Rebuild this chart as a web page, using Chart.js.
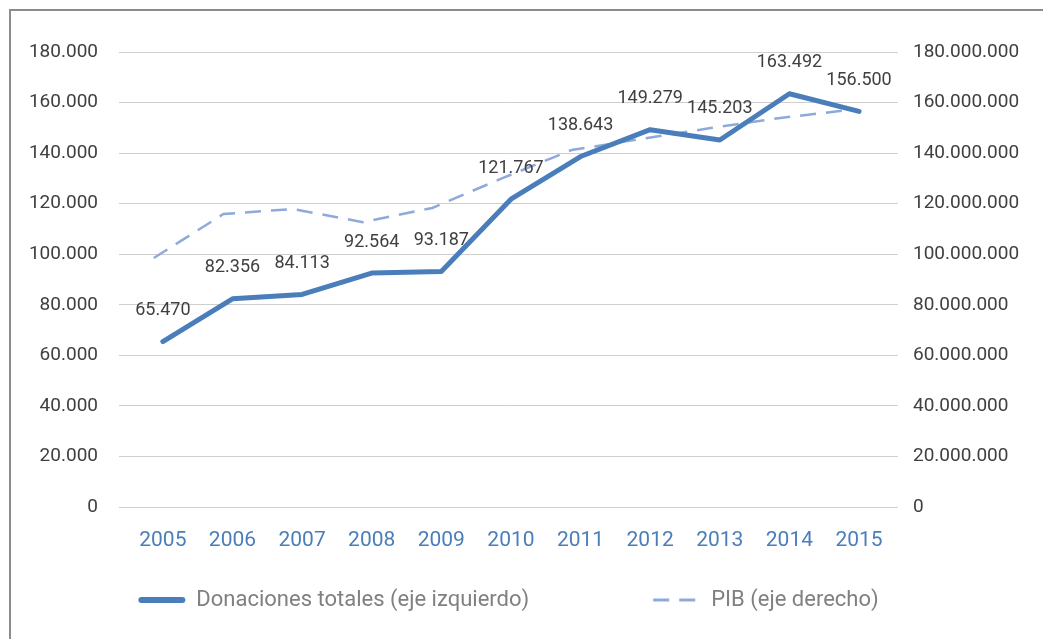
<!DOCTYPE html>
<html>
<head>
<meta charset="utf-8">
<script src="https://cdn.jsdelivr.net/npm/chart.js@4"></script>
<style>
  html, body { margin: 0; padding: 0; background: #fff; overflow: hidden; }
  .frame { position: absolute; left: 9px; top: 9px; width: 1100px; height: 700px; border-left: 2px solid #8c8c8c; border-top: 2px solid #8c8c8c; }
  #chart { position: absolute; left: 0; top: 0; }
</style>
</head>
<body>
<div class="frame"></div>
<canvas id="chart" width="1043" height="639"></canvas>
<script>
// data
const years = ['2005', '2006', '2007', '2008', '2009', '2010', '2011', '2012', '2013', '2014', '2015'];
const donaciones = [65470, 82356, 84113, 92564, 93187, 121767, 138643, 149279, 145203, 163492, 156500];
const pib = [98500000, 115900000, 117900000, 112700000, 118300000, 130000000, 141200000, 145600000, 149900000, 153900000, 157100000];
const leftTicks = [0, 20000, 40000, 60000, 80000, 100000, 120000, 140000, 160000, 180000];
const rightTicks = [0, 20000000, 40000000, 60000000, 80000000, 100000000, 120000000, 140000000, 160000000, 180000000];

const fmt = v => String(Math.round(v)).replace(/\B(?=(\d{3})+(?!\d))/g, '.');

// value labels above the donation line
const valueLabels = {
    id: 'valueLabels',
    afterDatasetsDraw(chart) {
        const ctx = chart.ctx;
        const meta = chart.getDatasetMeta(0);
        ctx.save();
        ctx.font = '18px Roboto';
        ctx.fillStyle = '#404040';
        ctx.textAlign = 'center';
        ctx.textBaseline = 'middle';
        meta.data.forEach((pt, i) => {
            ctx.fillText(fmt(chart.data.datasets[0].data[i]), pt.x, pt.y - 31);
        });
        ctx.restore();
    }
};

// legend at the bottom, wide gap between the two entries
const bottomLegend = {
    id: 'bottomLegend',
    afterDraw(chart) {
        const ctx = chart.ctx;
        const area = chart.chartArea;
        const y = 600, sample = 47, textGap = 11, itemGap = 124;
        ctx.save();
        ctx.font = '22px Roboto';
        const items = chart.data.datasets.map(ds => ({ ds, w: sample + textGap + ctx.measureText(ds.label).width }));
        const total = items.reduce((s, it) => s + it.w, 0) + itemGap * (items.length - 1);
        let x = (area.left + area.right) / 2 - total / 2;
        items.forEach(it => {
            const ds = it.ds;
            ctx.beginPath();
            ctx.strokeStyle = ds.borderColor;
            ctx.lineWidth = ds.legendWidth;
            ctx.setLineDash(ds.borderDash || []);
            ctx.lineCap = ds.borderCapStyle || 'butt';
            const inset = ctx.lineCap === 'round' ? ds.legendWidth / 2 : 0;
            ctx.moveTo(x + inset, y);
            ctx.lineTo(x + sample - inset, y);
            ctx.stroke();
            ctx.setLineDash([]);
            ctx.fillStyle = '#808080';
            ctx.textAlign = 'left';
            ctx.textBaseline = 'middle';
            ctx.fillText(ds.label, x + sample + textGap, y);
            x += it.w + itemGap;
        });
        ctx.restore();
    }
};

const xMin = 2004.37, xMax = 2015.56;

new Chart(document.getElementById('chart'), {
    type: 'line',
    data: {
        labels: years,
        datasets: [
            {
                label: 'Donaciones totales (eje izquierdo)',
                data: donaciones,
                xAxisID: 'x',
                yAxisID: 'y',
                borderColor: '#4a7ebb',
                borderWidth: 5,
                legendWidth: 6,
                borderCapStyle: 'round',
                borderJoinStyle: 'round',
                pointRadius: 0,
                tension: 0
            },
            {
                label: 'PIB (eje derecho)',
                data: pib,
                xAxisID: 'x2',
                yAxisID: 'y1',
                borderColor: '#8eaadb',
                borderWidth: 2.5,
                legendWidth: 3,
                borderDash: [16, 10],
                pointRadius: 0,
                tension: 0
            }
        ]
    },
    options: {
        responsive: false,
        animation: false,
        layout: { padding: { top: 52, left: 0, right: 0, bottom: 0 } },
        plugins: {
            legend: { display: false },
            tooltip: { enabled: false }
        },
        scales: {
            x: {
                type: 'linear',
                position: 'bottom',
                min: xMin,
                max: xMax,
                grid: { display: false, drawTicks: false },
                border: { display: false },
                afterBuildTicks: s => { s.ticks = years.map(y => ({ value: +y })); },
                afterFit: s => { s.height = 132; },
                ticks: {
                    padding: 21,
                    color: '#4a7ebb',
                    font: { family: 'Roboto', size: 21 },
                    autoSkip: false,
                    maxRotation: 0,
                    callback: v => String(v)
                }
            },
            x2: {
                type: 'linear',
                display: false,
                min: xMin + 0.13,
                max: xMax + 0.13
            },
            y: {
                position: 'left',
                min: 0,
                max: 180000,
                afterBuildTicks: s => { s.ticks = leftTicks.map(v => ({ value: v })); },
                afterFit: s => { s.width = 119; },
                grid: { color: '#cfcfcf', lineWidth: 1, drawTicks: false },
                border: { display: false },
                ticks: {
                    padding: 21,
                    color: '#404040',
                    font: { family: 'Roboto', size: 19 },
                    callback: v => fmt(v)
                }
            },
            y1: {
                position: 'right',
                min: 0,
                max: 180000000,
                afterBuildTicks: s => { s.ticks = rightTicks.map(v => ({ value: v })); },
                afterFit: s => { s.width = 145; },
                grid: { drawOnChartArea: false, drawTicks: false },
                border: { display: false },
                ticks: {
                    padding: 15,
                    color: '#404040',
                    font: { family: 'Roboto', size: 19 },
                    callback: v => fmt(v)
                }
            }
        }
    },
    plugins: [valueLabels, bottomLegend]
});
</script>
</body>
</html>
